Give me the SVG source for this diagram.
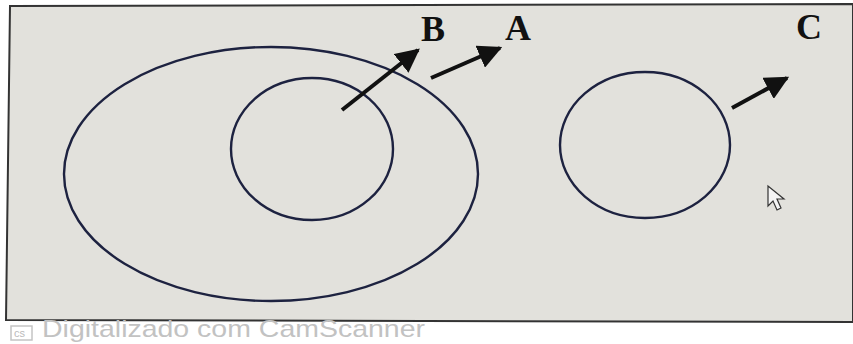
<svg xmlns="http://www.w3.org/2000/svg" width="853" height="344" viewBox="0 0 853 344">
<defs>
<style>
.set{fill:none;stroke:#1d2240;stroke-width:2.4}
.arr{stroke:#111;stroke-width:4;marker-end:url(#ah)}
.lbl{font-family:"Liberation Serif",serif;font-weight:bold;font-size:36px;fill:#111}
</style>
<marker id="ah" viewBox="0 0 10 10" refX="9" refY="5" markerWidth="6" markerHeight="6" markerUnits="strokeWidth" orient="auto">
<path d="M0,0 L10,5 L0,10 Z" fill="#111"/>
</marker>
</defs>
<rect width="853" height="344" fill="#fff"/>
<polygon points="10,6 853,4 853,322 6,320" fill="#e2e1dc" stroke="#333" stroke-width="2"/>
<g id="A"><ellipse class="set" cx="271" cy="174" rx="207" ry="127"/></g>
<g id="B"><ellipse class="set" cx="312" cy="149" rx="81" ry="71"/></g>
<g id="C"><ellipse class="set" cx="645" cy="145" rx="85" ry="73"/></g>
<g id="connectors">
<line class="arr" x1="342" y1="110" x2="418" y2="50"/>
<line class="arr" x1="431" y1="78" x2="500" y2="48"/>
<line class="arr" x1="732" y1="108" x2="787" y2="78"/>
</g>
<g id="labels">
<text class="lbl" x="421" y="41">B</text>
<text class="lbl" x="505" y="40">A</text>
<text class="lbl" x="796" y="39">C</text>
</g>
<g id="cursor"><path d="M768,186 L768,206 L773,201 L777,210 L781,208 L777,199 L784,199 Z" fill="#f4f4f4" stroke="#333" stroke-width="1.2"/></g>
<g id="footer">
<rect x="11" y="326" width="21" height="14" fill="none" stroke="#c4c4c4" stroke-width="1.5"/>
<text x="14" y="337" font-family="Liberation Sans,sans-serif" font-size="11" fill="#bbb">cs</text>
<text x="42" y="337" font-family="Liberation Sans,sans-serif" font-size="24" textLength="383" lengthAdjust="spacingAndGlyphs" fill="#c2c2c2">Digitalizado com CamScanner</text>
</g>
</svg>
